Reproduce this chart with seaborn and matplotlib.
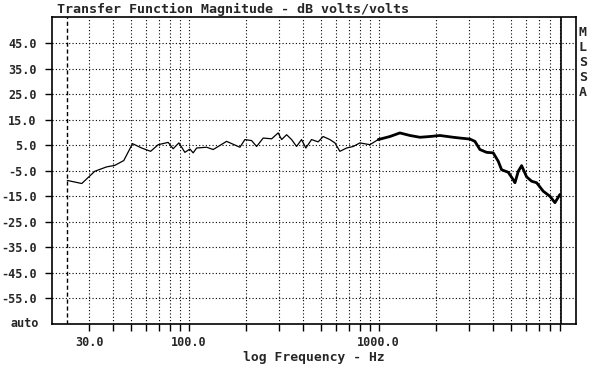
import seaborn as sns
import pandas as pd
import matplotlib.pyplot as plt
from matplotlib.ticker import FixedLocator, NullFormatter

# Transfer function magnitude
freq_hz = [23.0, 27.4, 32.1, 37.0, 40.9, 45.6, 50.7, 56.6, 63.1, 69.2,
           78.1, 82.9, 88.9, 95.6, 101.6, 105.7, 110.2, 124.4, 134.7, 158.5,
           186.2, 197.8, 214.6, 228.0, 247.0, 273.5, 296.0, 308.7, 328.0, 348.4,
           370.0, 393.0, 414.0, 443.6, 480.8, 510.6, 543.0, 554.0, 588.8, 625.5,
           678.6, 735.0, 797.4, 899.7, 995.0, 1147.0, 1294.0, 1462.0, 1650.0, 1862.0,
           2102.0, 2470.0, 2679.0, 3024.0, 3212.0, 3413.0, 3701.0, 4010.0, 4262.0, 4437.0,
           4810.0, 5109.0, 5219.0, 5432.0, 5657.0, 6010.0, 6385.0, 6786.0, 7347.0, 7972.0,
           8472.0, 8995.0]
mag_db = [-8.8, -10.0, -5.2, -3.5, -2.9, -1.0, 5.6, 3.9, 2.6, 5.2,
          6.1, 3.6, 5.9, 2.2, 3.5, 2.0, 3.9, 4.2, 3.3, 6.5,
          4.2, 7.2, 6.8, 4.5, 7.8, 7.5, 9.8, 7.2, 9.1, 7.2,
          4.5, 7.2, 3.9, 7.2, 6.3, 8.4, 7.5, 7.2, 5.9, 2.6,
          3.9, 4.5, 5.9, 5.2, 7.2, 8.4, 9.8, 8.8, 8.1, 8.4,
          8.8, 8.1, 7.8, 7.4, 6.5, 3.3, 2.2, 2.0, -1.3, -4.6,
          -5.6, -8.5, -9.7, -5.2, -3.0, -7.4, -9.1, -9.7, -13.0, -15.0,
          -17.5, -14.3]

y_ticks = [45, 35, 25, 15, 5, -5, -15, -25, -35, -45, -55]
x_major = [30, 100, 1000]
x_minor = [40, 50, 60, 70, 80, 90, 200, 300, 400, 500, 600, 700, 800, 900,
           2000, 3000, 4000, 5000, 6000, 7000, 8000, 9000]
f_start = 23.0
f_stop = 9100.0

df = pd.DataFrame({'freq': freq_hz, 'mag': mag_db})
dense = df[df['freq'] >= 900]

sns.set_theme(style="ticks")
plt.rcParams['font.family'] = ['DejaVu Sans Mono', 'DejaVu Sans']
plt.rcParams['font.weight'] = 'bold'

fig = plt.figure(figsize=(5.9, 3.69), dpi=100)
ax = fig.add_axes([0.0881, 0.122, 0.888, 0.8306])
ax.set_xscale('log')

sns.lineplot(data=df, x='freq', y='mag', ax=ax, color='black', lw=0.9,
             sort=False, estimator=None)
sns.lineplot(data=dense, x='freq', y='mag', ax=ax, color='black', lw=2.0,
             sort=False, estimator=None)

ax.set_xlim(19.1, 10920)
ax.set_ylim(-65, 55)

ax.xaxis.set_major_locator(FixedLocator(x_major))
ax.xaxis.set_minor_locator(FixedLocator(x_minor))
ax.set_xticklabels([f'{v:.1f}' for v in x_major])
ax.xaxis.set_minor_formatter(NullFormatter())
ax.set_yticks(y_ticks)
ax.set_yticklabels([f'{v:.1f}' for v in y_ticks])

dots = (0, (1, 2))
for v in x_major + x_minor:
    ax.axvline(v, color='black', lw=0.8, ls=dots, zorder=0)
for v in y_ticks:
    ax.axhline(v, color='black', lw=0.8, ls=dots, zorder=0)
ax.axvline(f_start, color='black', lw=1.0, ls=(0, (3, 2)))
ax.axvline(f_stop, color='black', lw=1.2)

ax.tick_params(axis='both', which='both', direction='out', length=5,
               width=1, color='black', labelsize=8.5)
ax.tick_params(axis='x', pad=4)
ax.tick_params(axis='y', pad=6)
for s in ax.spines.values():
    s.set_color('black')
    s.set_linewidth(1.2)

ax.text(-0.025, -65, 'auto', transform=ax.get_yaxis_transform(),
        ha='right', va='center', fontsize=8.5, fontweight='bold')

ax.set_xlabel('')
ax.set_ylabel('')
fig.text(0.532, 0.03, 'log Frequency - Hz', ha='center', va='center',
         fontsize=9.4, fontweight='bold')
fig.text(0.097, 0.975, 'Transfer Function Magnitude - dB volts/volts',
         ha='left', va='center', fontsize=9.6, fontweight='bold')
fig.text(0.988, 0.93, 'M\nL\nS\nS\nA', ha='center', va='top',
         fontsize=9.5, fontweight='bold', linespacing=1.2)

plt.savefig('out.png', dpi=100)
